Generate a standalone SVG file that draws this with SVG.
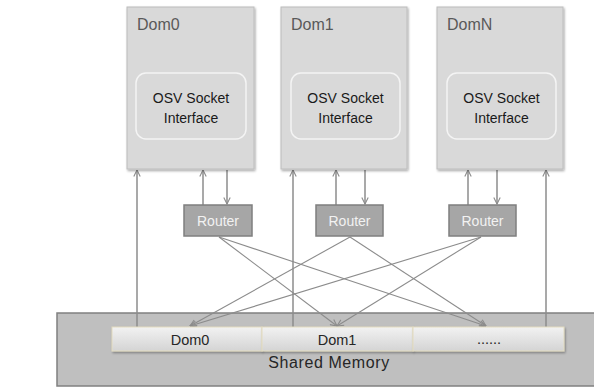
<svg xmlns="http://www.w3.org/2000/svg" width="594" height="391" viewBox="0 0 594 391">
  <style>
    .dom { fill: #d9d9d9; stroke: #bcbcbc; stroke-width: 1; filter: url(#shadow); }
    .iface { fill: #d9d9d9; stroke: #f4f4f4; stroke-width: 1.5; }
    .domlabel { font-family: "Liberation Sans", Arial, sans-serif; font-size: 16px; fill: #595959; }
    .ifacetext { font-family: "Liberation Sans", Arial, sans-serif; font-size: 14px; fill: #1a1a1a; text-anchor: middle; }
    .router { fill: #a6a6a6; stroke: #7f7f7f; stroke-width: 1.5; }
    .routertext { font-family: "Liberation Sans", Arial, sans-serif; font-size: 14px; fill: #f2f2f2; text-anchor: middle; }
    .mem { fill: #bfbfbf; stroke: #808080; stroke-width: 1.5; }
    .slot { fill: url(#slotGrad); stroke: #e3dcc0; stroke-width: 1; filter: url(#shadow); }
    .slottext { font-family: "Liberation Sans", Arial, sans-serif; font-size: 14.5px; fill: #262626; text-anchor: middle; }
    .memtext { font-family: "Liberation Sans", Arial, sans-serif; font-size: 16px; fill: #262626; text-anchor: middle; letter-spacing: 0.6px; }
    .link { stroke: #8c8c8c; stroke-width: 1.5; fill: none; marker-end: url(#arrow); }
    .cross { stroke: #8c8c8c; stroke-width: 1.1; fill: none; marker-end: url(#arrow); }
  </style>
  <defs>
    <filter id="shadow" x="-10%" y="-10%" width="120%" height="130%">
      <feDropShadow dx="1" dy="1.5" stdDeviation="1" flood-color="#000" flood-opacity="0.35"/>
    </filter>
    <linearGradient id="slotGrad" x1="0" y1="0" x2="0" y2="1">
      <stop offset="0" stop-color="#f2f2f2"/>
      <stop offset="1" stop-color="#d4d4d4"/>
    </linearGradient>
    <marker id="arrow" viewBox="0 0 8 8" refX="7.5" refY="4" markerWidth="8" markerHeight="8" markerUnits="userSpaceOnUse" orient="auto">
      <path d="M1,0.8 L7.5,4 L1,7.2" fill="none" stroke="#8c8c8c" stroke-width="1.1"/>
    </marker>
  </defs>

  <!-- shared memory -->
  <g id="shared-memory">
    <rect class="mem" x="57" y="313" width="538" height="73"/>
    <text class="memtext" x="329" y="368">Shared Memory</text>
  </g>

  <!-- connectors (drawn before slots so they stop at the slot tops) -->
  <g id="connectors">
    <!-- shared memory to domains -->
    <line class="link" x1="137" y1="327" x2="137" y2="170"/>
    <line class="link" x1="293" y1="327" x2="293" y2="170"/>
    <line class="link" x1="546" y1="327" x2="546" y2="170"/>
    <!-- router to domain -->
    <line class="link" x1="203" y1="205" x2="203" y2="170"/>
    <line class="link" x1="336" y1="205" x2="336" y2="170"/>
    <line class="link" x1="468" y1="205" x2="468" y2="170"/>
    <!-- domain to router -->
    <line class="link" x1="227" y1="170" x2="227" y2="204"/>
    <line class="link" x1="365" y1="170" x2="365" y2="204"/>
    <line class="link" x1="497" y1="170" x2="497" y2="204"/>
    <!-- routers to remote memory slots -->
    <line class="cross" x1="219" y1="237" x2="337" y2="326"/>
    <line class="cross" x1="219" y1="237" x2="486" y2="326"/>
    <line class="cross" x1="350" y1="237" x2="190" y2="326"/>
    <line class="cross" x1="350" y1="237" x2="486" y2="326"/>
    <line class="cross" x1="481" y1="237" x2="190" y2="326"/>
    <line class="cross" x1="481" y1="237" x2="337" y2="326"/>
  </g>

  <!-- memory slots -->
  <g id="slot-dom0">
    <rect class="slot" x="112" y="327" width="150" height="24"/>
    <text class="slottext" x="190" y="345">Dom0</text>
  </g>
  <g id="slot-dom1">
    <rect class="slot" x="262" y="327" width="151" height="24"/>
    <text class="slottext" x="337" y="345">Dom1</text>
  </g>
  <g id="slot-more">
    <rect class="slot" x="413" y="327" width="151" height="24"/>
    <text class="slottext" x="489" y="344">......</text>
  </g>

  <!-- domains -->
  <g id="dom0">
    <rect class="dom" x="127" y="7" width="127" height="162"/>
    <text class="domlabel" x="137" y="30">Dom0</text>
    <rect class="iface" x="136" y="73" width="110" height="66" rx="10"/>
    <text class="ifacetext" x="191" y="103">OSV Socket</text>
    <text class="ifacetext" x="191" y="123">Interface</text>
  </g>
  <g id="dom1">
    <rect class="dom" x="281" y="7" width="126" height="162"/>
    <text class="domlabel" x="291" y="30">Dom1</text>
    <rect class="iface" x="291" y="73" width="109" height="66" rx="10"/>
    <text class="ifacetext" x="345.5" y="103">OSV Socket</text>
    <text class="ifacetext" x="345.5" y="123">Interface</text>
  </g>
  <g id="domN">
    <rect class="dom" x="437" y="7" width="126" height="162"/>
    <text class="domlabel" x="447" y="30">DomN</text>
    <rect class="iface" x="447" y="73" width="109" height="66" rx="10"/>
    <text class="ifacetext" x="501.5" y="103">OSV Socket</text>
    <text class="ifacetext" x="501.5" y="123">Interface</text>
  </g>

  <!-- routers -->
  <g id="router0">
    <rect class="router" x="184" y="205" width="68" height="31"/>
    <text class="routertext" x="218" y="226">Router</text>
  </g>
  <g id="router1">
    <rect class="router" x="316" y="205" width="67" height="31"/>
    <text class="routertext" x="349.5" y="226">Router</text>
  </g>
  <g id="routerN">
    <rect class="router" x="449" y="205" width="67" height="31"/>
    <text class="routertext" x="482.5" y="226">Router</text>
  </g>
</svg>
